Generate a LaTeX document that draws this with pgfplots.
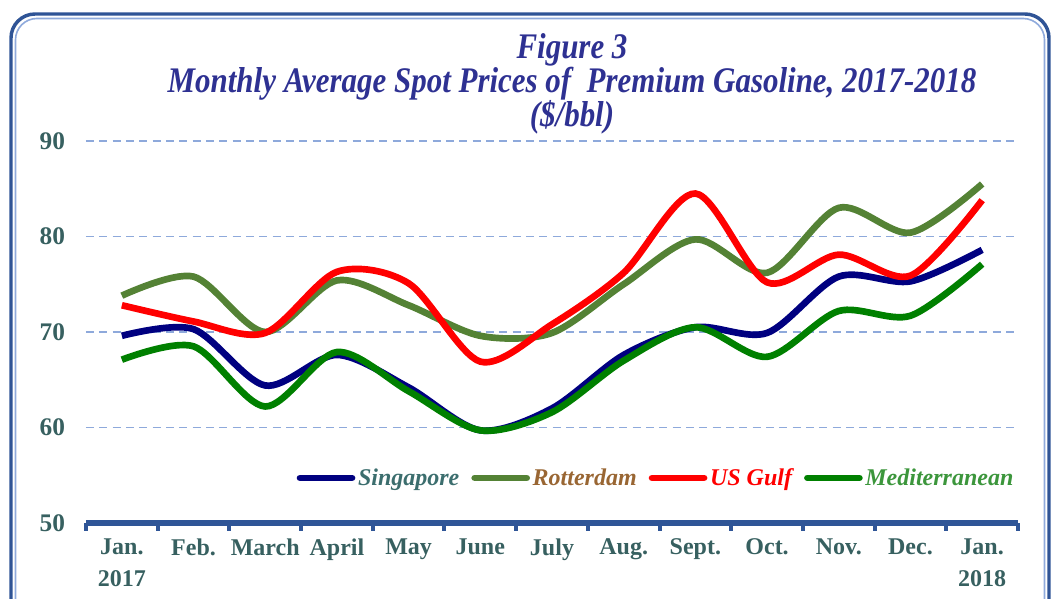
\documentclass[border=0pt]{standalone}
\usepackage{pgfplots}
\pgfplotsset{compat=1.18}
\usepackage{fontspec}
\setmainfont{Liberation Serif}
\newfontfamily\condfont[FakeStretch=0.86]{Liberation Serif}

\definecolor{titleblue}{RGB}{46,49,146}
\definecolor{ticktxt}{RGB}{55,96,96}
\definecolor{gridblue}{RGB}{142,169,219}
\definecolor{axisblue}{RGB}{47,85,151}
\definecolor{frameout}{RGB}{47,84,150}
\definecolor{framein}{RGB}{143,170,220}
\definecolor{sing}{RGB}{0,0,128}
\definecolor{rott}{RGB}{84,130,53}
\definecolor{usg}{RGB}{255,0,0}
\definecolor{med}{RGB}{0,128,0}
\definecolor{singtxt}{RGB}{60,110,110}
\definecolor{rottxt}{RGB}{153,102,51}
\definecolor{medtxt}{RGB}{60,150,60}

\begin{document}
\begin{tikzpicture}[x=0.75pt,y=0.75pt]
% pixel coordinates, origin at the bottom-left of the picture
\path[use as bounding box] (0,0) rectangle (1053,599);
% frame
\draw[frameout, line width=2.6pt, rounded corners=18pt] (11,-20) -- (11,585) -- (1049,585) -- (1049,-20);
\draw[framein, line width=1.2pt, rounded corners=16pt] (15.5,-20) -- (15.5,580.5) -- (1044.5,580.5) -- (1044.5,-20);
% title
\node[titleblue, font=\condfont\bfseries\itshape\fontsize{27}{30}\selectfont] at (572,549) {Figure 3};
\node[titleblue, font=\condfont\bfseries\itshape\fontsize{27}{30}\selectfont] at (572,515) {Monthly Average Spot Prices of\ \ Premium Gasoline, 2017-2018};
\node[titleblue, font=\condfont\bfseries\itshape\fontsize{27}{30}\selectfont] at (572,482) {(\$/bbl)};

\begin{axis}[
  at={(64.5pt,57pt)}, anchor=south west,
  scale only axis, width=699pt, height=286.5pt,
  xmin=-0.5, xmax=12.5, ymin=50, ymax=90,
  axis lines*=left,
  x axis line style={axisblue, line width=4.5pt},
  y axis line style={draw=none},
  xtick={0,...,12},
  xticklabels={{Jan.\\2017},Feb.,March,April,May,June,July,Aug.,Sept.,Oct.,Nov.,Dec.,{Jan.\\2018}},
  minor xtick={-0.5,0.5,...,12.5},
  major x tick style={draw=none},
  minor x tick style={axisblue, line width=3pt},
  minor tick length=6pt,
  tick align=outside,
  ytick={50,60,...,90},
  major y tick style={draw=none},
  ymajorgrids,
  major grid style={gridblue, line width=1.4pt, dash pattern=on 6pt off 4pt},
  /pgf/number format/assume math mode=true,
  x tick label style={align=center, font=\bfseries\fontsize{18}{24}\selectfont, text=ticktxt, yshift=-4pt},
  y tick label style={font=\bfseries\fontsize{19}{20}\selectfont, text=ticktxt, xshift=-8pt},
  legend columns=4,
  legend style={at={(0.612,0.118)}, anchor=center, draw=none, fill=none,
    font=\bfseries\itshape\fontsize{18}{20}\selectfont,
    /tikz/every even column/.append style={column sep=7pt}},
  legend image code/.code={\draw[#1, line cap=round] (0pt,0pt) -- (39pt,0pt);},
]
\addplot[sing, line width=5pt, smooth] coordinates {
(0,69.6) (1,70.3) (2,64.4) (3,67.6) (4,64.2) (5,59.7) (6,62.0) (7,67.6) (8,70.5) (9,69.9) (10,75.8) (11,75.3) (12,78.6)};
\addlegendentry{\textcolor{singtxt}{Singapore}}
\addplot[rott, line width=5pt, smooth] coordinates {
(0,73.8) (1,75.8) (2,70.0) (3,75.4) (4,72.8) (5,69.6) (6,69.9) (7,75.0) (8,79.7) (9,76.2) (10,83.0) (11,80.4) (12,85.5)};
\addlegendentry{\textcolor{rottxt}{Rotterdam}}
\addplot[usg, line width=5pt, smooth] coordinates {
(0,72.8) (1,71.1) (2,69.9) (3,76.3) (4,75.1) (5,66.9) (6,70.8) (7,76.2) (8,84.5) (9,75.2) (10,78.1) (11,75.9) (12,83.8)};
\addlegendentry{\textcolor{usg}{US Gulf}}
\addplot[med, line width=5pt, smooth] coordinates {
(0,67.1) (1,68.5) (2,62.2) (3,67.9) (4,63.8) (5,59.7) (6,61.6) (7,67.0) (8,70.5) (9,67.4) (10,72.2) (11,71.7) (12,77.1)};
\addlegendentry{\textcolor{medtxt}{Mediterranean}}
\end{axis}
\end{tikzpicture}
\end{document}
